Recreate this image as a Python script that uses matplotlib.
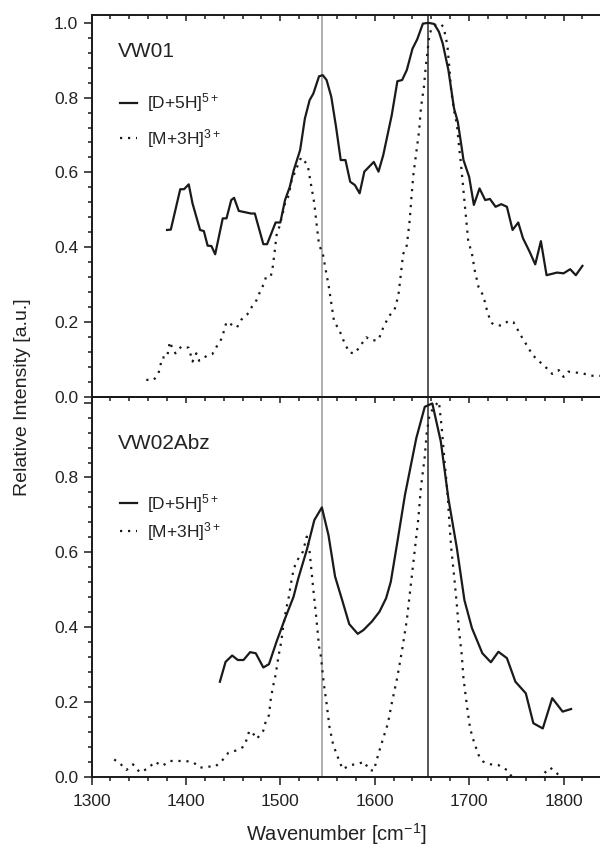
import numpy as np
import matplotlib
matplotlib.use("Agg")
import matplotlib.pyplot as plt
from matplotlib.ticker import MultipleLocator

plt.rcParams['font.family'] = ['Liberation Sans', 'DejaVu Sans']
plt.rcParams['mathtext.default'] = 'regular'

# VW01, [D+5H]5+ (solid)
vw01_d_x = [1380, 1384, 1394, 1398, 1403, 1407, 1415, 1419, 1423, 1427,
            1431, 1439, 1443, 1448, 1451, 1456, 1469, 1473, 1482, 1486,
            1495, 1500, 1505, 1510, 1514, 1521, 1526, 1531, 1535, 1541,
            1545, 1549, 1554, 1559, 1564, 1569, 1574, 1579, 1584, 1589,
            1599, 1604, 1609, 1618, 1624, 1629, 1634, 1640, 1645, 1651,
            1657, 1663, 1668, 1672, 1678, 1684, 1688, 1692, 1694, 1700,
            1705, 1711, 1717, 1722, 1728, 1734, 1740, 1746, 1752, 1757,
            1764, 1770, 1776, 1782, 1793, 1800, 1807, 1813, 1820]
vw01_d_y = [0.446, 0.447, 0.555, 0.555, 0.568, 0.517, 0.446, 0.443, 0.404, 0.403,
            0.381, 0.477, 0.477, 0.526, 0.532, 0.497, 0.490, 0.490, 0.408, 0.408,
            0.466, 0.466, 0.526, 0.561, 0.604, 0.660, 0.744, 0.793, 0.811, 0.857,
            0.860, 0.847, 0.802, 0.722, 0.633, 0.633, 0.575, 0.566, 0.544, 0.602,
            0.628, 0.602, 0.646, 0.753, 0.844, 0.847, 0.874, 0.931, 0.956, 0.998,
            1.000, 0.997, 0.976, 0.945, 0.874, 0.771, 0.735, 0.668, 0.633, 0.588,
            0.513, 0.557, 0.526, 0.529, 0.508, 0.515, 0.508, 0.446, 0.466, 0.424,
            0.388, 0.354, 0.416, 0.325, 0.332, 0.330, 0.341, 0.325, 0.350]

# VW01, [M+3H]3+ (dotted)
vw01_m_x = [1358, 1366, 1371, 1375, 1380, 1383, 1386, 1389, 1395, 1403,
            1407, 1411, 1414, 1422, 1428, 1433, 1438, 1443, 1449, 1454,
            1459, 1465, 1470, 1475, 1478, 1482, 1485, 1490, 1492, 1494,
            1496, 1499, 1503, 1505, 1509, 1512, 1516, 1519, 1522, 1529,
            1532, 1536, 1538, 1541, 1545, 1548, 1551, 1554, 1557, 1562,
            1567, 1573, 1579, 1585, 1591, 1597, 1604, 1609, 1615, 1621,
            1625, 1628, 1630, 1634, 1637, 1639, 1641, 1644, 1647, 1649,
            1652, 1654, 1656, 1658, 1661, 1665, 1670, 1673, 1677, 1679,
            1681, 1684, 1687, 1689, 1691, 1693, 1695, 1697, 1699, 1703,
            1706, 1710, 1715, 1719, 1723, 1726, 1734, 1742, 1747, 1751,
            1757, 1762, 1767, 1774, 1781, 1788, 1795, 1800, 1805, 1811,
            1820, 1828, 1836, 1850]
vw01_m_y = [0.045, 0.045, 0.063, 0.105, 0.105, 0.147, 0.127, 0.116, 0.134, 0.131,
            0.094, 0.116, 0.096, 0.109, 0.114, 0.136, 0.156, 0.200, 0.192, 0.185,
            0.207, 0.220, 0.241, 0.259, 0.278, 0.299, 0.321, 0.323, 0.348, 0.388,
            0.432, 0.455, 0.495, 0.517, 0.539, 0.579, 0.604, 0.622, 0.640, 0.620,
            0.575, 0.517, 0.471, 0.406, 0.383, 0.340, 0.300, 0.250, 0.200, 0.181,
            0.150, 0.118, 0.116, 0.137, 0.159, 0.150, 0.152, 0.185, 0.215, 0.233,
            0.270, 0.335, 0.381, 0.405, 0.471, 0.537, 0.595, 0.653, 0.711, 0.774,
            0.827, 0.881, 0.925, 0.970, 0.988, 0.995, 0.997, 0.988, 0.939, 0.881,
            0.818, 0.765, 0.729, 0.676, 0.631, 0.578, 0.524, 0.471, 0.417, 0.382,
            0.337, 0.293, 0.270, 0.230, 0.199, 0.193, 0.190, 0.203, 0.199, 0.181,
            0.154, 0.134, 0.112, 0.095, 0.079, 0.061, 0.071, 0.053, 0.067, 0.065,
            0.063, 0.056, 0.056, 0.055]

# VW02Abz, [D+5H]5+ (solid)
vw02_d_x = [1436, 1442, 1449, 1455, 1461, 1468, 1474, 1482, 1488, 1496,
            1505, 1514, 1519, 1528, 1536, 1544, 1551, 1558, 1566, 1573,
            1582, 1588, 1597, 1605, 1612, 1617, 1624, 1632, 1644, 1653,
            1661, 1670, 1678, 1687, 1695, 1703, 1714, 1723, 1731, 1740,
            1749, 1760, 1768, 1778, 1788, 1799, 1808]
vw02_d_y = [0.254, 0.307, 0.324, 0.312, 0.312, 0.333, 0.330, 0.292, 0.301, 0.361,
            0.423, 0.481, 0.530, 0.606, 0.686, 0.720, 0.646, 0.535, 0.468, 0.408,
            0.382, 0.392, 0.415, 0.441, 0.477, 0.521, 0.628, 0.753, 0.905, 0.989,
            0.998, 0.896, 0.744, 0.611, 0.472, 0.397, 0.330, 0.306, 0.334, 0.317,
            0.254, 0.223, 0.143, 0.129, 0.210, 0.174, 0.181]

# VW02Abz, [M+3H]3+ (dotted)
vw02_m_x = [1324, 1330, 1337, 1344, 1351, 1360, 1367, 1375, 1383, 1391,
            1400, 1408, 1415, 1423, 1431, 1438, 1445, 1453, 1461, 1465,
            1467, 1470, 1475, 1482, 1484, 1488, 1490, 1493, 1495, 1498,
            1501, 1503, 1506, 1509, 1511, 1514, 1517, 1524, 1528, 1531,
            1535, 1538, 1541, 1543, 1546, 1549, 1552, 1556, 1562, 1566,
            1574, 1582, 1589, 1594, 1599, 1604, 1609, 1614, 1618, 1624,
            1629, 1634, 1638, 1642, 1646, 1649, 1653, 1655, 1658, 1663,
            1668, 1671, 1674, 1677, 1679, 1681, 1684, 1687, 1689, 1692,
            1694, 1698, 1701, 1705, 1710, 1715, 1723, 1731, 1740, 1748,
            1760, 1770, 1778, 1786, 1793, 1800]
vw02_m_y = [0.046, 0.036, 0.018, 0.033, 0.012, 0.022, 0.040, 0.029, 0.042, 0.042,
            0.042, 0.038, 0.024, 0.027, 0.027, 0.042, 0.064, 0.070, 0.080, 0.103,
            0.122, 0.120, 0.101, 0.123, 0.143, 0.165, 0.210, 0.250, 0.272, 0.321,
            0.361, 0.401, 0.446, 0.481, 0.513, 0.553, 0.575, 0.602, 0.642, 0.602,
            0.499, 0.428, 0.348, 0.321, 0.250, 0.196, 0.134, 0.085, 0.045, 0.020,
            0.031, 0.034, 0.040, 0.018, 0.016, 0.062, 0.103, 0.143, 0.196, 0.267,
            0.339, 0.419, 0.508, 0.597, 0.686, 0.775, 0.856, 0.918, 0.967, 0.990,
            1.003, 0.932, 0.842, 0.762, 0.682, 0.611, 0.539, 0.459, 0.397, 0.330,
            0.263, 0.183, 0.129, 0.094, 0.058, 0.040, 0.033, 0.031, 0.018, -0.010,
            -0.010, -0.010, 0.006, 0.024, 0.009, -0.010]

# marker lines
amide2 = 1544
amide1 = 1656

panels = [
    ("VW01", vw01_d_x, vw01_d_y, vw01_m_x, vw01_m_y),
    ("VW02Abz", vw02_d_x, vw02_d_y, vw02_m_x, vw02_m_y),
]

W, H = 600, 852
fig = plt.figure(figsize=(W / 100, H / 100), dpi=100)


def add_px_axes(x0, y0, x1, y1):
    return fig.add_axes([x0 / W, 1 - y1 / H, (x1 - x0) / W, (y1 - y0) / H])


ax_bot = add_px_axes(91.5, 396.7, 600, 776.7)
ax_top = add_px_axes(91.5, 15, 600, 396.7)
axes = [ax_top, ax_bot]

txt_col = '#222222'
for i, (ax, (name, dx, dy, mx, my)) in enumerate(zip(axes, panels)):
    ax.set_facecolor('none')
    ax.axvline(amide2, color='#a8a8a8', lw=1.3, zorder=1)
    ax.axvline(amide1, color='#4a4a4a', lw=1.3, zorder=1)
    ax.plot(dx, dy, color='#1a1a1a', lw=1.6, label=r'[D+5H]$^{5+}$', zorder=3)
    ax.plot(mx, my, color='#1a1a1a', lw=1.6, ls=(0, (1, 2.6)),
            label=r'[M+3H]$^{3+}$', zorder=2)

    ax.set_xlim(1300, 1838.6)
    ax.set_ylim(0, 1.021 if i == 0 else 1.016)
    ax.spines['right'].set_visible(False)
    for s in ('top', 'bottom', 'left'):
        ax.spines[s].set_linewidth(1.4)
        ax.spines[s].set_color('#1a1a1a')

    ax.xaxis.set_major_locator(MultipleLocator(100))
    ax.xaxis.set_minor_locator(MultipleLocator(20))
    ax.yaxis.set_minor_locator(MultipleLocator(0.04))
    ax.set_yticks([0, 0.2, 0.4, 0.6, 0.8, 1.0])
    if i == 0:
        ax.set_yticklabels(['0.0', '0.2', '0.4', '0.6', '0.8', '1.0'])
    else:
        ax.set_yticklabels(['0.0', '0.2', '0.4', '0.6', '0.8', ''])

    ax.tick_params(axis='y', which='both', direction='out', left=True, right=False,
                   width=1.1, colors='#1a1a1a', labelcolor=txt_col, labelsize=12.5, pad=4)
    ax.tick_params(axis='y', which='major', length=5.5)
    ax.tick_params(axis='y', which='minor', length=3.2)

    ax.text(0.051, 0.905 if i == 0 else 0.876, name, transform=ax.transAxes,
            fontsize=15, color=txt_col, va='center', ha='left')
    leg = ax.legend(loc='upper left', bbox_to_anchor=(0.056, 0.80 if i == 0 else 0.75),
                    frameon=False, fontsize=12.5, handlelength=1.0, handletextpad=0.55,
                    borderpad=0, borderaxespad=0, labelspacing=0.72 if i == 0 else 0.3)
    for t in leg.get_texts():
        t.set_color(txt_col)

# top panel: inward ticks on its top edge only
ax_top.tick_params(axis='x', which='both', direction='in', top=True, bottom=False,
                   labeltop=False, labelbottom=False, width=1.1, colors='#1a1a1a')
ax_top.tick_params(axis='x', which='major', length=4.5)
ax_top.tick_params(axis='x', which='minor', length=2.6)

# bottom panel: outward ticks below, inward ticks on the shared edge
ax_bot.tick_params(axis='x', which='both', direction='out', top=False, bottom=True,
                   width=1.1, colors='#1a1a1a', labelcolor=txt_col, labelsize=12.5, pad=7)
ax_bot.tick_params(axis='x', which='major', length=5.5)
ax_bot.tick_params(axis='x', which='minor', length=3.2)
sec = ax_bot.secondary_xaxis('top')
sec.xaxis.set_major_locator(MultipleLocator(100))
sec.xaxis.set_minor_locator(MultipleLocator(20))
sec.spines['top'].set_linewidth(1.4)
sec.tick_params(axis='x', which='both', direction='in', labeltop=False, width=1.1,
                colors='#1a1a1a')
sec.tick_params(axis='x', which='major', length=4.5)
sec.tick_params(axis='x', which='minor', length=2.6)

fig.text(23 / W, 1 - 396.7 / H, 'Relative Intensity [a.u.]', rotation=90,
         ha='center', va='center', fontsize=14, color=txt_col)
fig.text(336 / W, 1 - 834 / H, r'Wavenumber [cm$^{-1}$]', ha='center', va='center',
         fontsize=14.5, color=txt_col)

fig.savefig('out.png', dpi=100, facecolor='white')
